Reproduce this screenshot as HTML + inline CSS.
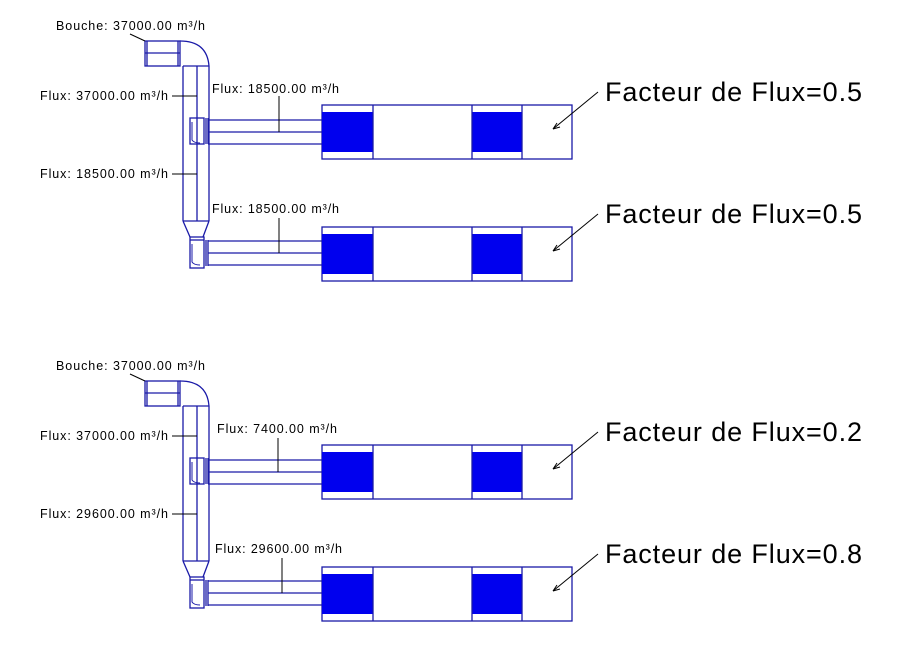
<!DOCTYPE html>
<html><head><meta charset="utf-8"><style>
html,body{margin:0;padding:0;background:#fff;}
svg{display:block;}
text{font-family:"Liberation Sans",Arial,sans-serif;fill:#000;}
.s{font-size:12.5px;}
.b{font-size:27px;}
</style></head><body>
<svg width="897" height="667" viewBox="0 0 897 667" xmlns="http://www.w3.org/2000/svg">
<defs>
<g id="d" fill="none" stroke="#1a1aa8" stroke-width="1.3">
  <rect x="145" y="41" width="35" height="25"/>
  <line x1="147" y1="41" x2="147" y2="66"/>
  <line x1="178" y1="41" x2="178" y2="66"/>
  <line x1="145" y1="53" x2="180" y2="53"/>
  <path d="M180 41 Q207 41 209 66"/>
  <line x1="183" y1="66" x2="209" y2="66"/>
  <line x1="183" y1="66" x2="183" y2="221"/>
  <line x1="209" y1="66" x2="209" y2="221"/>
  <line x1="197" y1="66" x2="197" y2="221"/>
  <line x1="183" y1="221" x2="209" y2="221"/>
  <path d="M183 221 L190 237 M209 221 L203 237"/>
  <rect x="190" y="118" width="14" height="26"/>
  <line x1="206" y1="118" x2="206" y2="144"/>
  <line x1="208" y1="118" x2="208" y2="144"/>
  <path d="M192 122 L192 140 Q194 143 200 143" stroke-width="1"/>
  <line x1="208" y1="120" x2="322" y2="120"/>
  <line x1="208" y1="132" x2="322" y2="132"/>
  <line x1="208" y1="144" x2="322" y2="144"/>
  <rect x="190" y="237" width="14" height="31"/>
  <line x1="190" y1="240" x2="204" y2="240"/>
  <line x1="206" y1="240" x2="206" y2="266"/>
  <line x1="208" y1="240" x2="208" y2="266"/>
  <path d="M192 244 L192 262 Q194 265 200 265" stroke-width="1"/>
  <line x1="208" y1="241" x2="322" y2="241"/>
  <line x1="208" y1="253" x2="322" y2="253"/>
  <line x1="208" y1="265" x2="322" y2="265"/>
  <g id="box">
    <rect x="322" y="105" width="250" height="54"/>
    <rect x="322" y="112" width="51" height="40" fill="#0000ee" stroke="none"/>
    <rect x="472" y="112" width="50" height="40" fill="#0000ee" stroke="none"/>
    <line x1="373" y1="105" x2="373" y2="159"/>
    <line x1="472" y1="105" x2="472" y2="159"/>
    <line x1="522" y1="105" x2="522" y2="159"/>
  </g>
  <use href="#box" y="122"/>
</g>
<g id="lead" stroke="#000" stroke-width="1" fill="none">
  <line x1="130" y1="34" x2="145" y2="41"/>
  <line x1="172" y1="96" x2="197" y2="96"/>
  <line x1="172" y1="174" x2="197" y2="174"/>
  <line x1="598" y1="92" x2="553" y2="129"/>
  <line x1="598" y1="214" x2="553" y2="251"/>
  <path d="M553 129 l4 -6 M553 129 l7 -2"/>
  <path d="M553 251 l4 -6 M553 251 l7 -2"/>
</g>
</defs>

<use href="#d"/>
<use href="#lead"/>
<line x1="279" y1="96" x2="279" y2="132" stroke="#000"/>
<line x1="279" y1="218" x2="279" y2="253" stroke="#000"/>
<text class="s" x="56" y="30" textLength="149" lengthAdjust="spacing">Bouche: 37000.00 m³/h</text>
<text class="s" x="40" y="100" textLength="128" lengthAdjust="spacing">Flux: 37000.00 m³/h</text>
<text class="s" x="40" y="178" textLength="128" lengthAdjust="spacing">Flux: 18500.00 m³/h</text>
<text class="s" x="212" y="93" textLength="127" lengthAdjust="spacing">Flux: 18500.00 m³/h</text>
<text class="s" x="212" y="213" textLength="127" lengthAdjust="spacing">Flux: 18500.00 m³/h</text>
<text class="b" x="605" y="101" textLength="257" lengthAdjust="spacing">Facteur de Flux=0.5</text>
<text class="b" x="605" y="223" textLength="257" lengthAdjust="spacing">Facteur de Flux=0.5</text>

<g transform="translate(0,340)">
<use href="#d"/>
<use href="#lead"/>
<line x1="278" y1="98" x2="278" y2="132" stroke="#000"/>
<line x1="282" y1="218" x2="282" y2="253" stroke="#000"/>
<text class="s" x="56" y="30" textLength="149" lengthAdjust="spacing">Bouche: 37000.00 m³/h</text>
<text class="s" x="40" y="100" textLength="128" lengthAdjust="spacing">Flux: 37000.00 m³/h</text>
<text class="s" x="40" y="178" textLength="128" lengthAdjust="spacing">Flux: 29600.00 m³/h</text>
<text class="s" x="217" y="93" textLength="120" lengthAdjust="spacing">Flux: 7400.00 m³/h</text>
<text class="s" x="215" y="213" textLength="127" lengthAdjust="spacing">Flux: 29600.00 m³/h</text>
<text class="b" x="605" y="101" textLength="257" lengthAdjust="spacing">Facteur de Flux=0.2</text>
<text class="b" x="605" y="223" textLength="257" lengthAdjust="spacing">Facteur de Flux=0.8</text>
</g>
</svg>
</body></html>
